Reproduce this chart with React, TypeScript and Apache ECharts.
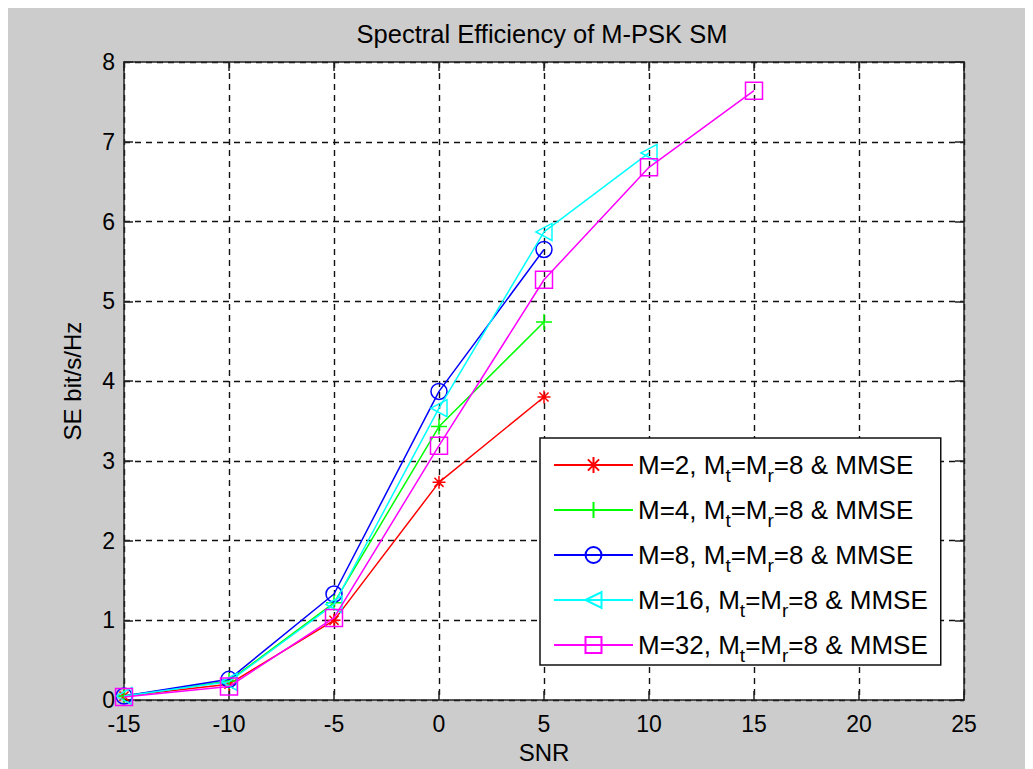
import React, { useEffect, useRef } from "react";
import * as echarts from "echarts";

const snr = [-15, -10, -5, 0, 5, 10, 15];
const mOrders = [2, 4, 8, 16, 32];
const se_M2 = [0.05, 0.2, 1.0, 2.73, 3.8];
const se_M4 = [0.05, 0.24, 1.22, 3.43, 4.74];
const se_M8 = [0.05, 0.26, 1.33, 3.87, 5.65];
const se_M16 = [0.05, 0.23, 1.2, 3.66, 5.87, 6.86];
const se_M32 = [0.04, 0.17, 1.03, 3.19, 5.27, 6.68, 7.64];
const xTicks = [-15, -10, -5, 0, 5, 10, 15, 20, 25];
const yTicks = [0, 1, 2, 3, 4, 5, 6, 7, 8];

const seriesValues = [se_M2, se_M4, se_M8, se_M16, se_M32];
const colors = ["#ff0000", "#00ff00", "#0000ff", "#00ffff", "#ff00ff"];
const symbols = [
  "path://M0,-10L0,10M-10,0L10,0M-7,-7L7,7M-7,7L7,-7",
  "path://M0,-10L0,10M-10,0L10,0",
  "path://M10,0A10,10,0,1,1,-10,0A10,10,0,1,1,10,0Z",
  "path://M-10,0L10,-10L10,10Z",
  "path://M-10,-10L10,-10L10,10L-10,10Z",
];
const symbolSizes = [13, 16, 16, [16, 17], 17];

const FONT = "'Liberation Sans', Arial, sans-serif";

export default function App() {
  const ref = useRef<HTMLDivElement>(null);
  useEffect(() => {
    if (!ref.current) return;
    const chart = echarts.init(ref.current, undefined, { renderer: "svg" });
    const names = mOrders.map((m) => `M=${m}, Mt=Mr=8 & MMSE`);
    const series = seriesValues.map((vals, i) => ({
      name: names[i],
      type: "line",
      data: vals.map((v, j) => [snr[j], v]),
      symbol: symbols[i],
      symbolSize: symbolSizes[i],
      showSymbol: true,
      lineStyle: { color: colors[i], width: 1.5 },
      itemStyle: {
        color: "rgba(0,0,0,0)",
        borderColor: colors[i],
        borderWidth: 1.5,
      },
      emphasis: { disabled: true },
      z: 3 + i,
    }));
    const axisLine = { show: true, onZero: false, lineStyle: { color: "#222", width: 1.5 } };
    const axisTick = { show: true, inside: true, length: 9, lineStyle: { color: "#222", width: 1.5 } };
    const splitLine = { show: true, lineStyle: { color: "#111", width: 1.4, type: [6, 5] } };
    const axisFont = { fontFamily: FONT, fontSize: 23, color: "#000" };
    chart.setOption({
      animation: false,
      backgroundColor: "#cccccc",
      title: {
        text: "Spectral Efficiency of M-PSK SM",
        left: 536,
        textAlign: "center",
        top: 15,
        padding: 0,
        textStyle: { fontFamily: FONT, fontSize: 25.5, fontWeight: "normal", color: "#000" },
      },
      grid: { left: 118, top: 56, right: 69, bottom: 67, show: true, backgroundColor: "#fff", borderWidth: 0 },
      xAxis: [
        {
          type: "value",
          min: xTicks[0],
          max: xTicks[xTicks.length - 1],
          interval: 5,
          name: "SNR",
          nameLocation: "middle",
          nameGap: 37,
          nameTextStyle: { ...axisFont, fontSize: 24 },
          axisLine,
          axisTick,
          splitLine,
          axisLabel: { ...axisFont, margin: 12 },
        },
        {
          type: "value",
          position: "top",
          min: xTicks[0],
          max: xTicks[xTicks.length - 1],
          interval: 5,
          axisLine,
          axisTick,
          splitLine: { show: false },
          axisLabel: { show: false },
        },
      ],
      yAxis: [
        {
          type: "value",
          min: yTicks[0],
          max: yTicks[yTicks.length - 1],
          interval: 1,
          name: "SE bit/s/Hz",
          nameLocation: "middle",
          nameGap: 40,
          nameTextStyle: { ...axisFont, fontSize: 24 },
          axisLine,
          axisTick,
          splitLine,
          axisLabel: { ...axisFont, margin: 9 },
        },
        {
          type: "value",
          position: "right",
          min: yTicks[0],
          max: yTicks[yTicks.length - 1],
          interval: 1,
          axisLine,
          axisTick,
          splitLine: { show: false },
          axisLabel: { show: false },
        },
      ],
      legend: {
        orient: "vertical",
        left: 534,
        top: 432,
        padding: [7, 13, 0, 13],
        itemGap: 5,
        itemWidth: 79,
        itemHeight: 20,
        backgroundColor: "#fff",
        borderColor: "#111",
        borderWidth: 1.5,
        borderRadius: 0,
        selectedMode: false,
        data: names,
        formatter: (name: string) => name.replace("Mt=Mr", "M{s|t}{n|=}M{s|r}"),
        textStyle: {
          fontFamily: FONT,
          fontSize: 26,
          color: "#000",
          lineHeight: 40,
          rich: {
            n: { fontFamily: FONT, fontSize: 26, color: "#000", lineHeight: 40 },
            s: { fontFamily: FONT, fontSize: 19, color: "#000", verticalAlign: "bottom" },
          },
        },
      },
      series,
    });
    return () => chart.dispose();
  }, []);
  return (
    <div
      ref={ref}
      style={{ width: 1027, height: 763, marginLeft: -2, marginTop: -2 }}
    />
  );
}
